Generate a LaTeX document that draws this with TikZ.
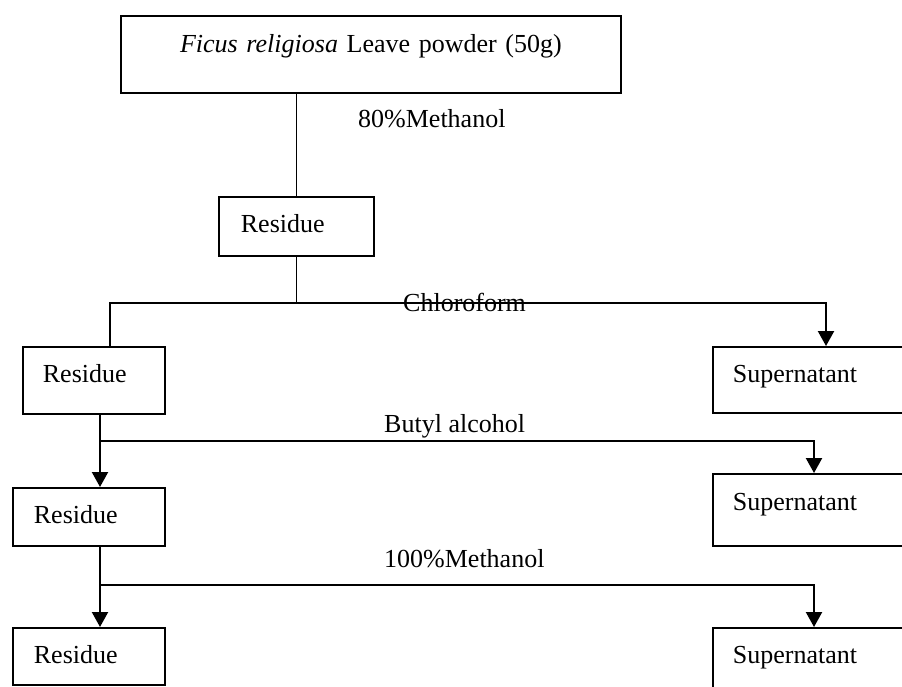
\documentclass[tikz,border=0pt]{standalone}
\usepackage{fontspec}
\setmainfont{Liberation Serif}
\usetikzlibrary{arrows.meta}
\begin{document}
\begin{tikzpicture}[x=1pt,y=-1pt,
  every node/.style={font=\fontsize{26}{30}\selectfont},
  box/.style={draw,line width=1.8pt,anchor=north west,inner ysep=0pt,align=left},
  lab/.style={anchor=base west,inner sep=0pt},
  thinline/.style={line width=1.5pt},
  flow/.style={line width=2.2pt},
  tip/.style={-{Triangle[width=16pt,length=15pt]}}
]
\useasboundingbox (0,0) rectangle (902,686);
% boxes
\node[box,align=center,inner xsep=10pt,text width=480pt,text height=37pt,text depth=40pt] (top) at (120,15) {\textit{Ficus religiosa} Leave powder (50g)};
\node[box,inner xsep=22pt,text width=111pt,text height=35.5pt,text depth=23.5pt] (r1) at (218,196) {Residue};
\node[box,inner xsep=20pt,text width=102pt,text height=36pt,text depth=31pt] (r2) at (22,346) {Residue};
\node[box,inner xsep=20pt,text width=168pt,text height=36pt,text depth=30pt] (s1) at (712,346) {Supernatant};
\node[box,inner xsep=21pt,text width=110pt,text height=35.7pt,text depth=22.3pt] (r3) at (12,487) {Residue};
\node[box,inner xsep=20pt,text width=168pt,text height=36.3pt,text depth=35.7pt] (s2) at (712,473) {Supernatant};
\node[box,inner xsep=21pt,text width=110pt,text height=35.7pt,text depth=21.3pt] (r4) at (12,627) {Residue};
\node[box,inner xsep=20pt,text width=168pt,text height=35.7pt,text depth=60pt] (s3) at (712,627) {Supernatant};
% labels
\node[lab] (l1) at (358,127.3) {80\%Methanol};
\node[lab] (l2) at (403,311.7) {Chloroform};
\node[lab] (l3) at (384,432.7) {Butyl alcohol};
\node[lab] (l4) at (384,567.3) {100\%Methanol};
% junctions
\coordinate (cm) at (r1.south |- 0,303);
\coordinate (cl) at (110,303);
\coordinate (cr) at (826,303);
\coordinate (bl) at (100,441);
\coordinate (br) at (814,441);
\coordinate (ml) at (100,585);
\coordinate (mr) at (814,585);
% connectors
\draw[thinline] (top.south -| r1.north) -- (r1.north);
\draw[thinline] (r1.south) -- (cm);
\draw[flow,tip] (cl |- r2.north) -- (cl) -- (cr) -- (cr |- s1.north);
\draw[thinline] (r2.south -| bl) -- (bl);
\draw[flow,tip] (bl) -- (bl |- r3.north);
\draw[flow,tip] (bl) -- (br) -- (br |- s2.north);
\draw[thinline] (r3.south -| ml) -- (ml);
\draw[flow,tip] (ml) -- (ml |- r4.north);
\draw[flow,tip] (ml) -- (mr) -- (mr |- s3.north);
\end{tikzpicture}
\end{document}
